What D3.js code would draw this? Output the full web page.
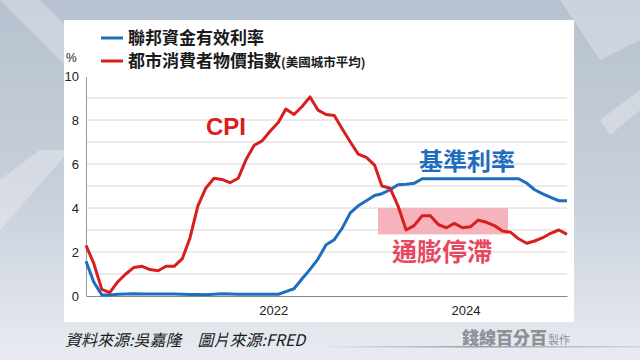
<!DOCTYPE html>
<html><head><meta charset="utf-8">
<script src="https://cdn.jsdelivr.net/npm/d3@7/dist/d3.min.js"></script>
<style>html,body{margin:0;padding:0;background:#fff;}svg{display:block;}</style>
</head><body>
<svg id="c" width="640" height="360"></svg>
<script>
// ---- data ----
const startMonth = "2020-02";
const endMonth = "2025-02";
const fedFunds = [
  1.58,0.65,0.05,0.05,0.08,0.09,0.10,0.09,0.09,0.09,0.09,
  0.09,0.08,0.07,0.07,0.06,0.08,0.10,0.09,0.08,0.08,0.08,0.08,
  0.08,0.08,0.20,0.33,0.77,1.21,1.68,2.33,2.56,3.08,3.78,4.10,
  4.33,4.57,4.65,4.83,5.06,5.08,5.12,5.33,5.33,5.33,5.33,5.33,
  5.33,5.33,5.33,5.33,5.33,5.33,5.33,5.33,5.13,4.83,4.64,4.48,
  4.33,4.33
];
const cpi = [
  2.3,1.5,0.3,0.15,0.65,1.0,1.3,1.35,1.2,1.15,1.35,
  1.35,1.7,2.6,4.1,4.9,5.35,5.3,5.15,5.35,6.2,6.85,7.05,
  7.5,7.9,8.5,8.25,8.6,9.05,8.45,8.25,8.2,7.6,7.0,6.45,
  6.3,5.95,5.0,4.9,4.1,3.0,3.2,3.65,3.65,3.25,3.1,3.3,
  3.1,3.15,3.45,3.35,3.2,2.95,2.9,2.6,2.4,2.5,2.65,2.85,
  3.0,2.8
];
const yTicks = [0,2,4,6,8,10];
const gridValues = [1,2,3,4,5,6,7,8,9];
const xTickYears = ["2022","2024"];
const legendLabels = ["聯邦資金有效利率","都市消費者物價指數"];
const legendSub = "(美國城市平均)";
const notes = {cpi:"CPI", rate:"基準利率", stag:"通膨停滯"};
const stagRange = {from:"2023-02-14", to:"2024-06-22", lo:2.8, hi:4.0};
const footer = "資料來源:吳嘉隆　圖片來源:FRED";

// ---- setup ----
const parseM = d3.timeParse("%Y-%m");
const parseD = d3.timeParse("%Y-%m-%d");
const months = d3.timeMonth.range(parseM(startMonth), d3.timeMonth.offset(parseM(endMonth),1));
const svg = d3.select("#c");
const CJK = "'Noto Sans CJK TC','Noto Sans CJK SC',sans-serif";
const LAT = "'Liberation Sans',Arial,sans-serif";
const BLUE = "#1f6dbd", RED = "#d91e1e", PINK = "#e8485f";

// background
const defs = svg.append("defs");
const bg = defs.append("linearGradient").attr("id","bg").attr("x1",0).attr("y1",0).attr("x2",0).attr("y2",1);
bg.append("stop").attr("offset","0%").attr("stop-color","#b7c1cf");
bg.append("stop").attr("offset","55%").attr("stop-color","#c9d0db");
bg.append("stop").attr("offset","100%").attr("stop-color","#e8ecf2");
svg.append("rect").attr("width",640).attr("height",360).attr("fill","url(#bg)");
const streaks = [
  [[0,0],[40,0],[160,120],[120,120]],
  [[0,180],[0,230],[70,150],[40,150]],
  [[560,0],[640,0],[640,40],[600,60]],
  [[600,120],[640,90],[640,110],[610,135]]
];
svg.selectAll("polygon.st").data(streaks).join("polygon").attr("class","st")
  .attr("points",d=>d.map(p=>p.join(",")).join(" ")).attr("fill","#ffffff").attr("opacity",0.28);
const lg = defs.append("linearGradient").attr("id","ln").attr("x1",0).attr("x2",1);
lg.append("stop").attr("offset","0%").attr("stop-color","#888").attr("stop-opacity",0);
lg.append("stop").attr("offset","50%").attr("stop-color","#888").attr("stop-opacity",0.8);
lg.append("stop").attr("offset","100%").attr("stop-color","#888").attr("stop-opacity",0.2);
svg.append("rect").attr("x",320).attr("y",346).attr("width",320).attr("height",1.5).attr("fill","url(#ln)");

// panel
svg.append("rect").attr("x",64).attr("y",20).attr("width",510).attr("height",302).attr("fill","#ffffff");

const x = d3.scaleTime().domain([months[0], months[months.length-1]]).range([86,567]);
const y = d3.scaleLinear().domain([0,10]).range([296,76]);

// grid
svg.append("g").selectAll("line").data(gridValues).join("line")
  .attr("x1",86).attr("x2",567).attr("y1",d=>y(d)).attr("y2",d=>y(d))
  .attr("stroke","#d6d6d6").attr("stroke-width",1);

// y axis
const yAx = svg.append("g").attr("transform","translate(86,0)")
  .call(d3.axisLeft(y).tickValues(yTicks).tickSize(0).tickPadding(7));
yAx.select(".domain").attr("stroke","#999").attr("d","M0.5,"+(y(10)+1)+"V"+y(0));
yAx.selectAll("text").attr("font-family",LAT).attr("font-size",13).attr("fill","#222");
svg.append("text").attr("x",66).attr("y",62).text("%").attr("font-family",LAT).attr("font-size",12).attr("fill","#222");

// x axis
const xAx = svg.append("g").attr("transform","translate(0,296)")
  .call(d3.axisBottom(x).tickValues(xTickYears.map(s=>parseM(s+"-01"))).tickFormat(d3.timeFormat("%Y")).tickSize(0).tickPadding(10));
xAx.select(".domain").attr("stroke","#888").attr("stroke-width",1.2);
xAx.selectAll("text").attr("font-family",LAT).attr("font-size",13).attr("fill","#222").attr("dx",3);

// stagflation band
svg.append("rect").attr("x",x(parseD(stagRange.from))).attr("width",x(parseD(stagRange.to))-x(parseD(stagRange.from)))
  .attr("y",y(stagRange.hi)).attr("height",y(stagRange.lo)-y(stagRange.hi)).attr("fill","#f7b3bc");

// lines
const line = d3.line().x((d,i)=>x(months[i])).y(d=>y(d)).curve(d3.curveLinear);
svg.append("path").datum(fedFunds).attr("d",line).attr("fill","none").attr("stroke",BLUE).attr("stroke-width",3).attr("stroke-linejoin","round");
svg.append("path").datum(cpi).attr("d",line).attr("fill","none").attr("stroke",RED).attr("stroke-width",3).attr("stroke-linejoin","round");

// annotations
svg.append("text").attr("x",206).attr("y",135).text(notes.cpi).attr("font-family",LAT).attr("font-weight","bold").attr("font-size",24).attr("fill",RED);
svg.append("text").attr("x",419).attr("y",170).text(notes.rate).attr("font-family",CJK).attr("font-weight","bold").attr("font-size",24).attr("fill",BLUE);
svg.append("text").attr("x",392).attr("y",261).text(notes.stag).attr("font-family",CJK).attr("font-weight","bold").attr("font-size",25).attr("fill",PINK);

// legend
[BLUE,RED].forEach((c,i)=>{
  const yy = 38 + i*23;
  svg.append("line").attr("x1",101).attr("x2",123).attr("y1",yy).attr("y2",yy).attr("stroke",c).attr("stroke-width",3);
  const t = svg.append("text").attr("x",128).attr("y",yy+6).attr("font-family",CJK).attr("font-weight",700).attr("font-size",17).attr("fill","#1a1a1a").text(legendLabels[i]);
  if(i===1) t.append("tspan").attr("font-size",12.5).attr("dy",0).text(legendSub);
});

// footer
svg.append("text").attr("x",65).attr("y",346).text(footer).attr("font-family",CJK).attr("font-style","italic").attr("font-size",16).attr("fill","#1a1a1a");
svg.append("text").attr("x",462).attr("y",344).text("錢線百分百").attr("font-family",CJK).attr("font-weight",900).attr("font-size",17).attr("fill","#8d9299");
svg.append("text").attr("x",548).attr("y",344).text("製作").attr("font-family",CJK).attr("font-size",11).attr("fill","#8d9299");
</script>
</body></html>
